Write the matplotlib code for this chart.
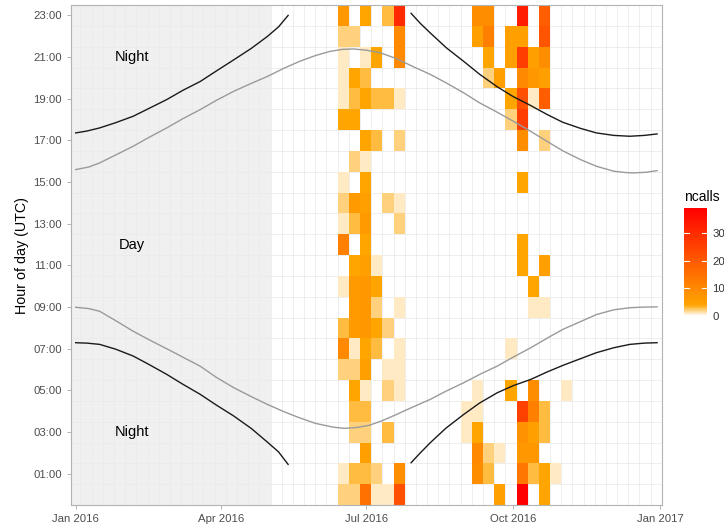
"""Weekly call activity by hour of day, with sunset/dusk and sunrise/dawn curves."""

import datetime as dt

import matplotlib
matplotlib.use("Agg")
import matplotlib.dates as mdates
import matplotlib.pyplot as plt
import numpy as np
from matplotlib.colors import LinearSegmentedColormap, Normalize

START = dt.date(2016, 1, 1)

# --- data ------------------------------------------------------------------
# week starts (Mondays) that have at least one call
week_start = ["2016-06-13", "2016-06-20", "2016-06-27", "2016-07-04", "2016-07-11",
              "2016-07-18", "2016-08-29", "2016-09-05", "2016-09-12", "2016-09-19",
              "2016-09-26", "2016-10-03", "2016-10-10", "2016-10-17", "2016-10-24",
              "2016-10-31"]

# ncalls per week, hours 00..23
ncalls = [
    [2, 1, 0, 0, 0, 0, 2, 10, 3, 0, 1, 0, 12, 1, 2, 1, 0, 0, 4, 1, 1, 1, 2, 7],
    [2, 3, 0, 2, 3, 4, 2, 1, 6, 6, 6, 4, 0, 3, 6, 0, 2, 0, 4, 3, 4, 0, 2, 0],
    [15, 3, 5, 2, 3, 1, 5, 4, 7, 7, 7, 5, 4, 6, 5, 4, 1, 4, 0, 4, 3, 1, 0, 4],
    [1, 2, 0, 0, 0, 0, 0, 3, 4, 2, 4, 1, 0, 0, 0, 0, 0, 3, 0, 3, 0, 4, 0, 0],
    [1, 0, 0, 3, 0, 2, 1, 0, 2, 0, 0, 0, 0, 0, 2, 0, 0, 0, 0, 3, 0, 0, 0, 3],
    [22, 9, 0, 0, 0, 1, 1, 1, 0, 1, 0, 0, 0, 2, 1, 0, 0, 2, 0, 1, 0, 10, 10, 30],
    [0, 0, 0, 1, 1, 0, 0, 0, 0, 0, 0, 0, 0, 0, 0, 0, 0, 0, 0, 0, 0, 0, 0, 0],
    [0, 9, 10, 4, 1, 1, 0, 0, 0, 0, 0, 0, 0, 0, 0, 0, 0, 0, 0, 0, 0, 0, 5, 9],
    [0, 3, 2, 0, 0, 0, 0, 0, 0, 0, 0, 0, 0, 0, 0, 0, 0, 0, 0, 0, 2, 4, 12, 9],
    [5, 0, 1, 0, 0, 0, 0, 0, 0, 0, 0, 0, 0, 0, 0, 0, 0, 0, 0, 0, 5, 0, 0, 0],
    [0, 0, 0, 0, 0, 4, 0, 1, 0, 0, 0, 0, 0, 0, 0, 0, 0, 0, 2, 4, 0, 5, 5, 0],
    [39, 14, 7, 8, 25, 0, 0, 0, 0, 0, 0, 4, 4, 0, 0, 4, 0, 9, 26, 22, 10, 26, 5, 33],
    [0, 3, 7, 5, 12, 9, 0, 0, 0, 1, 4, 0, 0, 0, 0, 0, 0, 0, 0, 1, 7, 5, 0, 0],
    [4, 4, 0, 3, 3, 0, 0, 0, 0, 1, 0, 5, 0, 0, 0, 0, 0, 2, 0, 19, 5, 9, 21, 19],
    [0, 1, 0, 0, 0, 0, 0, 0, 0, 0, 0, 0, 0, 0, 0, 0, 0, 0, 0, 0, 0, 0, 0, 0],
    [0, 0, 0, 0, 0, 1, 0, 0, 0, 0, 0, 0, 0, 0, 0, 0, 0, 0, 0, 0, 0, 0, 0, 0],
]

# curves: days since 2016-01-01, hour (UTC)
dusk1_day = [0, 7, 15, 25, 36, 46, 57, 67, 78, 88, 99, 110, 120, 127, 133]
dusk1_hr = [17.36, 17.45, 17.6, 17.85, 18.16, 18.54, 18.96, 19.4, 19.83, 20.33,
            20.87, 21.42, 21.99, 22.45, 23.0]
dusk2_day = [210, 216, 222, 232, 243, 253, 264, 274, 285, 295, 305, 316, 326, 337,
             347, 356, 364]
dusk2_hr = [23.1, 22.6, 22.16, 21.45, 20.79, 20.17, 19.57, 19.1, 18.67, 18.25, 17.87,
            17.58, 17.36, 17.24, 17.2, 17.24, 17.31]

dawn1_day = [0, 7, 15, 25, 36, 46, 57, 67, 78, 88, 99, 110, 120, 127, 133]
dawn1_hr = [7.29, 7.27, 7.21, 6.98, 6.65, 6.24, 5.77, 5.3, 4.81, 4.3, 3.77, 3.17,
            2.52, 2.05, 1.45]
dawn2_day = [210, 216, 222, 232, 243, 253, 264, 274, 285, 295, 305, 316, 326, 337,
             347, 356, 364]
dawn2_hr = [1.53, 2.02, 2.49, 3.2, 3.85, 4.4, 4.89, 5.23, 5.53, 5.88, 6.2, 6.52,
            6.81, 7.05, 7.21, 7.27, 7.29]

sunset_day = [0, 8, 15, 25, 36, 46, 57, 67, 78, 88, 99, 110, 120, 130, 140, 150,
              159, 167, 174, 182, 191, 201, 211, 222, 232, 243, 253, 264, 274, 285,
              295, 305, 316, 326, 337, 344, 349, 357, 364]
sunset_hr = [15.6, 15.72, 15.92, 16.3, 16.72, 17.15, 17.6, 18.04, 18.48, 18.92,
             19.36, 19.74, 20.07, 20.45, 20.79, 21.07, 21.27, 21.37, 21.39, 21.33,
             21.2, 20.92, 20.55, 20.17, 19.76, 19.28, 18.8, 18.35, 17.92, 17.43,
             16.96, 16.5, 16.08, 15.76, 15.52, 15.46, 15.44, 15.47, 15.55]
sunrise_day = [0, 8, 15, 25, 36, 46, 57, 67, 78, 88, 99, 110, 120, 130, 140, 150,
               161, 168, 176, 184, 192, 201, 211, 222, 232, 243, 253, 264, 274, 285,
               295, 305, 316, 326, 337, 347, 356, 364]
sunrise_hr = [8.99, 8.93, 8.8, 8.35, 7.84, 7.43, 7.0, 6.6, 6.16, 5.63, 5.13, 4.7,
              4.33, 3.99, 3.69, 3.42, 3.24, 3.18, 3.22, 3.33, 3.55, 3.85, 4.2, 4.57,
              4.97, 5.37, 5.77, 6.17, 6.6, 7.05, 7.5, 7.93, 8.3, 8.64, 8.87, 8.97,
              9.0, 9.01]

no_data_until = "2016-05-02"
hour_ticks = list(range(1, 24, 2))
date_ticks = ["2016-01-01", "2016-04-01", "2016-07-01", "2016-10-01", "2017-01-01"]


def dnum(s):
    return mdates.date2num(dt.date.fromisoformat(s))


def days(d):
    return mdates.date2num(START) + np.asarray(d, dtype=float)


plt.rcParams["font.family"] = ["Liberation Sans", "DejaVu Sans"]

fig = plt.figure(figsize=(7.24, 5.27), dpi=100)
ax = fig.add_axes([71 / 724, 1 - 505 / 527, 591 / 724, 500 / 527])

x0 = days(-2.94)
x1 = days(367.1)
ax.set_xlim(x0, x1)
ax.set_ylim(-0.5, 23.5)

# grey "no recording" period
ax.axvspan(x0, dnum(no_data_until), color="#F0F0F0", lw=0, zorder=0)

# grid: weekly (Mondays) and hour-cell boundaries
mondays = days(np.arange(3, 368, 7))
for m in mondays:
    ax.axvline(m, color="#EBEBEB", lw=0.6, zorder=0.5)
for h in np.arange(0.5, 23.5, 1):
    ax.axhline(h, color="#EBEBEB", lw=0.6, zorder=0.5)

# heatmap tiles
first = dnum(week_start[0])
n_weeks = int(round((dnum(week_start[-1]) - first) / 7)) + 1
grid = np.zeros((24, n_weeks))
for ws, col in zip(week_start, ncalls):
    k = int(round((dnum(ws) - first) / 7))
    grid[:, k] = col
xedges = first + 7 * np.arange(n_weeks + 1)
yedges = np.arange(-0.5, 24, 1)
cmap = LinearSegmentedColormap.from_list("ncalls", [(0, "white"), (0.1, "orange"), (1, "red")])
norm = Normalize(0, 39)
mesh = ax.pcolormesh(xedges, yedges, np.ma.masked_equal(grid, 0), cmap=cmap, norm=norm,
                     zorder=1)

# sun curves
ax.plot(days(sunset_day), sunset_hr, color="#9A9A9A", lw=1.0, zorder=2)
ax.plot(days(sunrise_day), sunrise_hr, color="#9A9A9A", lw=1.0, zorder=2)
for d, h in [(dusk1_day, dusk1_hr), (dusk2_day, dusk2_hr),
             (dawn1_day, dawn1_hr), (dawn2_day, dawn2_hr)]:
    ax.plot(days(d), h, color="#1A1A1A", lw=1.0, zorder=2)

for label, h in [("Night", 21), ("Day", 12), ("Night", 3)]:
    ax.text(days(35), h, label, ha="center", va="center", fontsize=10.5, color="black",
            zorder=3)

# axes styling
ax.set_xticks([dnum(s) for s in date_ticks])
ax.xaxis.set_major_formatter(mdates.DateFormatter("%b %Y"))
ax.set_yticks(hour_ticks)
ax.set_yticklabels([f"{h:02d}:00" for h in hour_ticks])
ax.tick_params(colors="#B3B3B3", labelcolor="#4D4D4D", labelsize=8.2, length=3, width=0.7)
for s in ax.spines.values():
    s.set_color("#B3B3B3")
    s.set_linewidth(0.8)
ax.set_ylabel("Hour of day (UTC)", fontsize=10.3, color="black", labelpad=3)

# colourbar legend
cax = fig.add_axes([684 / 724, 1 - 316 / 527, 23 / 724, 108 / 527])
cb = fig.colorbar(mesh, cax=cax, ticks=[0, 10, 20, 30])
cb.outline.set_visible(False)
cax.tick_params(length=0, labelsize=8.2, labelcolor="#333333", pad=4)
for t in [0, 10, 20, 30]:
    cax.plot([0, 0.2], [t, t], color="white", lw=0.8)
    cax.plot([0.8, 1], [t, t], color="white", lw=0.8)
fig.text(684 / 724, 1 - 197 / 527, "ncalls", fontsize=10, ha="left", va="center")

fig.savefig("out.png", dpi=100)
